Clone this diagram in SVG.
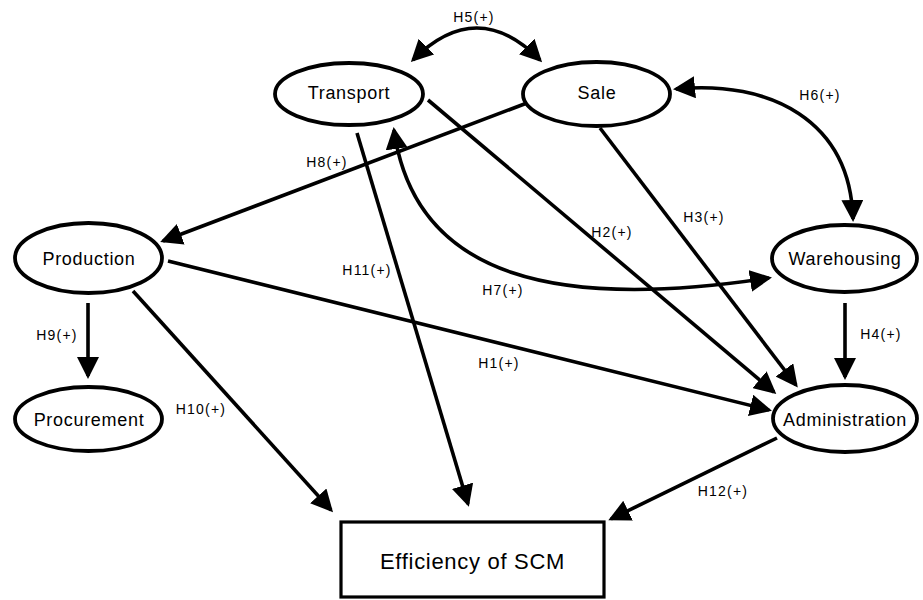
<svg xmlns="http://www.w3.org/2000/svg" width="923" height="600" viewBox="0 0 923 600">
<defs>
<marker id="ah" markerUnits="userSpaceOnUse" markerWidth="22" markerHeight="22" viewBox="0 0 22 22" refX="19" refY="11" orient="auto-start-reverse">
<path d="M0,0 L22,11 L0,22 z" fill="#000"/>
</marker>
<style>
.node ellipse{fill:#fff;stroke:#000;stroke-width:3.8}
.node rect{fill:#fff;stroke:#000;stroke-width:3.2}
.nt{font-family:"Liberation Sans",Arial,sans-serif;font-size:18px;letter-spacing:0.7px;text-anchor:middle;fill:#000}
.big{font-size:22px;letter-spacing:0.7px}
.edges path{fill:none;stroke:#000;stroke-width:3.6;marker-end:url(#ah)}
.edges path.bi{marker-start:url(#ah)}
.lbl{font-family:"Liberation Sans",Arial,sans-serif;font-size:14px;letter-spacing:1.2px;text-anchor:middle;fill:#000}
</style>
</defs>
<rect width="923" height="600" fill="#fff"/>
<g id="transport" class="node"><ellipse cx="349" cy="94" rx="74" ry="31"/><text class="nt" x="349" y="99">Transport</text></g>
<g id="sale" class="node"><ellipse cx="596.5" cy="94" rx="73.5" ry="32"/><text class="nt" x="597" y="99">Sale</text></g>
<g id="production" class="node"><ellipse cx="88.5" cy="258" rx="73.5" ry="35"/><text class="nt" x="89" y="265">Production</text></g>
<g id="procurement" class="node"><ellipse cx="88.5" cy="419" rx="73.5" ry="32"/><text class="nt" x="89" y="426">Procurement</text></g>
<g id="warehousing" class="node"><ellipse cx="844.5" cy="258.5" rx="72.5" ry="33.5"/><text class="nt" x="845" y="265">Warehousing</text></g>
<g id="administration" class="node"><ellipse cx="845" cy="418.5" rx="72" ry="33.5"/><text class="nt" x="845" y="426">Administration</text></g>
<g id="efficiency" class="node"><rect x="341" y="522" width="263" height="75"/><text class="nt big" x="472.5" y="569">Efficiency of SCM</text></g>
<g id="connectors" class="edges">
<path class="bi" d="M413,60 Q477,-4 540,60"/>
<path class="bi" d="M676,89 C770,80 850,120 853,219"/>
<path class="bi" d="M394,130 C415,280 560,310 769,278"/>
<path d="M527,103 L163,241"/>
<path d="M428,100 L774,392"/>
<path d="M600,128 L796,385"/>
<path d="M357,133 L468,504"/>
<path d="M133,291 L331,510"/>
<path d="M777,438 L611,519"/>
<path d="M168,261 L769,410"/>
<path d="M845,303 L845,377"/>
<path d="M88,303 L88,376"/>
</g>
<g id="labels">
<text class="lbl" x="474" y="22">H5(+)</text>
<text class="lbl" x="820" y="100">H6(+)</text>
<text class="lbl" x="327" y="167">H8(+)</text>
<text class="lbl" x="704" y="222">H3(+)</text>
<text class="lbl" x="612" y="237">H2(+)</text>
<text class="lbl" x="367" y="275">H11(+)</text>
<text class="lbl" x="503" y="295">H7(+)</text>
<text class="lbl" x="57" y="340">H9(+)</text>
<text class="lbl" x="201" y="414">H10(+)</text>
<text class="lbl" x="499" y="368">H1(+)</text>
<text class="lbl" x="881" y="339">H4(+)</text>
<text class="lbl" x="723" y="496">H12(+)</text>
</g>
</svg>
